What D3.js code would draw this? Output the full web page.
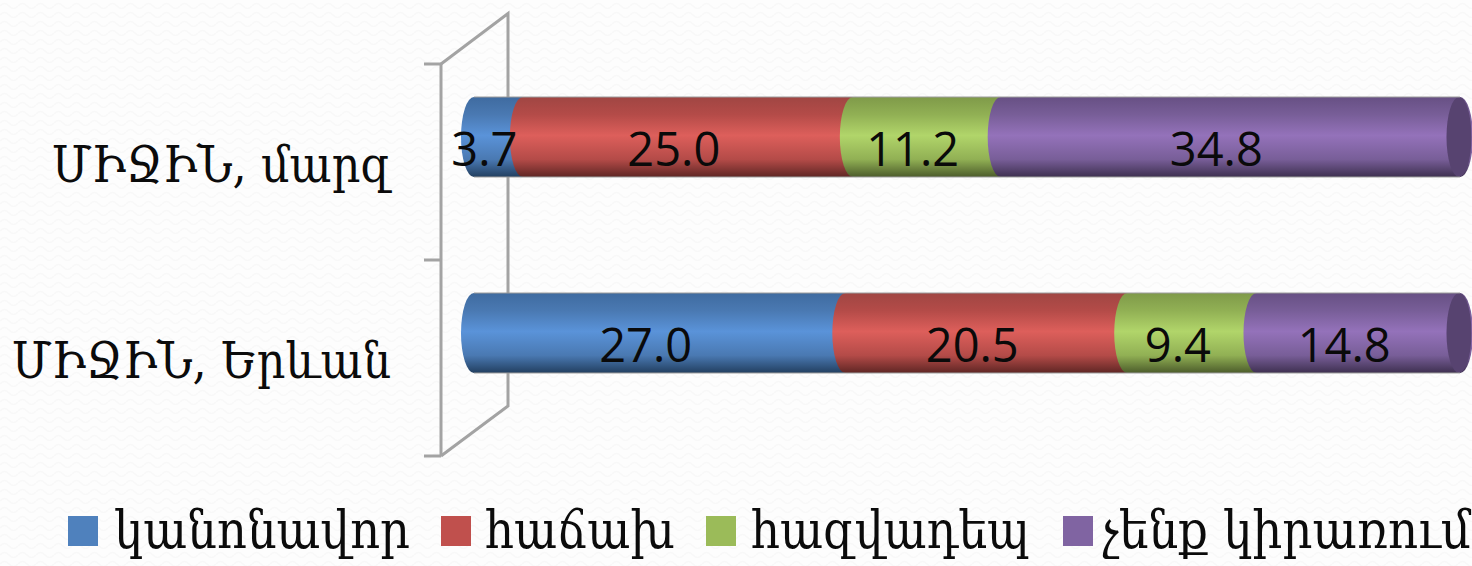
<!DOCTYPE html>
<html><head><meta charset="utf-8">
<script src="https://cdn.jsdelivr.net/npm/d3@7/dist/d3.min.js"></script>
<style>
html,body{margin:0;padding:0;background:#fdfdfd;overflow:hidden}
svg{display:block}
.cat,.leg{font-family:"DejaVu Serif",serif;fill:#0b0b0b}
.val{font-family:"Open Sans","Noto Sans",sans-serif;fill:#0a0a0a}
</style></head><body>
<svg id="c" width="1472" height="566"></svg>
<script>
const categories = ["ՄԻՋԻՆ, մարզ", "ՄԻՋԻՆ, Երևան"];
const seriesNames = ["կանոնավոր", "հաճախ", "հազվադեպ", "չենք կիրառում"];
const kanonavor = [3.7, 27.0];
const hachakh = [25.0, 20.5];
const hazvadep = [11.2, 9.4];
const chenq = [34.8, 14.8];
const seriesValues = [kanonavor, hachakh, hazvadep, chenq];
const baseColors = ["#4f81bd", "#c0504d", "#9bbb59", "#8064a2"];
const topColors = ["#3f6ba0", "#a04643", "#7f9a49", "#675084"];
const lightColors = ["#5a93d9", "#dd5f5b", "#b1d56a", "#9472ba"];
const midColors = ["#4a79b2", "#b44b48", "#91b054", "#785e98"];
const darkColors = ["#223f60", "#5f2624", "#4c5c2b", "#3e3050"];
const capColors = ["#3a5f8c", "#8e3b39", "#728a42", "#574370"];

const svg = d3.select("#c");
const W = 1472, H = 566;
const rows = categories.map((c, i) => {
  const r = {cat: c};
  seriesNames.forEach((s, k) => r[s] = seriesValues[k][i]);
  return r;
});
const stacked = d3.stack().keys(seriesNames).offset(d3.stackOffsetExpand)(rows);
const x = d3.scaleLinear().domain([0, 1]).range([461, 1447]);
const y = d3.scaleBand().domain(categories).range([39, 431]).paddingInner(0.592).paddingOuter(0.296);
const rx = 13;

const defs = svg.append("defs");
const pat = defs.append("pattern").attr("id", "bgp").attr("width", 18).attr("height", 9).attr("patternUnits", "userSpaceOnUse");
pat.append("path").attr("d", "M0,6Q4.5,1 9,6T18,6").attr("fill", "none").attr("stroke", "#f8f8f8").attr("stroke-width", 1.5);
svg.append("rect").attr("width", W).attr("height", H).attr("fill", "#fdfdfd");
svg.append("rect").attr("width", W).attr("height", H).attr("fill", "url(#bgp)");

seriesNames.forEach((s, k) => {
  const g = defs.append("linearGradient").attr("id", "g" + k).attr("x1", 0).attr("x2", 0).attr("y1", 0).attr("y2", 1);
  [[0, topColors[k]], [0.22, midColors[k]], [0.48, lightColors[k]], [0.78, midColors[k]], [1, darkColors[k]]]
    .forEach(d => g.append("stop").attr("offset", d[0]).attr("stop-color", d[1]));
});

const axisColor = "#a3a3a3";
const frame = svg.append("g").attr("fill", "none").attr("stroke", axisColor).attr("stroke-width", 3);
const axisScale = d3.scaleLinear().domain([0, categories.length]).range([64, 456]);
frame.append("path").attr("d", `M441,${axisScale(0)}V${axisScale(2)}`);
d3.range(categories.length + 1).forEach(i => {
  frame.append("path").attr("d", `M424,${axisScale(i)}H441`);
});
frame.append("path").attr("d", `M441,${axisScale(0)}L508,13.5V406L441,${axisScale(2)}`);

// cylinders: each later segment overlaps the previous one with its bulging left end
const ry = y.bandwidth() / 2;
stacked.forEach(ser => {
  const k = seriesNames.indexOf(ser.key);
  svg.append("g").selectAll("path").data(ser).join("path")
    .attr("fill", `url(#g${k})`)
    .attr("d", d => {
      const x0 = x(d[0]), x1 = x(d[1]), t = y(d.data.cat), b = t + y.bandwidth();
      return `M${x0 + rx},${t}H${x1 + rx}A${rx},${ry} 0 0 1 ${x1 + rx},${b}H${x0 + rx}A${rx},${ry} 0 0 1 ${x0 + rx},${t}Z`;
    });
  if (k === seriesNames.length - 1) {
    svg.append("g").selectAll("ellipse").data(ser).join("ellipse")
      .attr("cx", d => x(d[1]) + rx - 1)
      .attr("cy", d => y(d.data.cat) + ry)
      .attr("rx", rx - 0.5).attr("ry", ry)
      .attr("fill", capColors[k]);
  }
});
// hairlines along the top and bottom of each cylinder
const hair = svg.append("g").attr("stroke", "#9a9a9a").attr("stroke-width", 1);
categories.forEach(c => {
  hair.append("path").attr("d", `M${x(0) + rx},${y(c)}H${x(1) + rx}`);
  hair.append("path").attr("d", `M${x(0) + rx},${y(c) + y.bandwidth()}H${x(1) + rx}`);
});

// value labels
stacked.forEach((ser, k) => {
  svg.append("g").selectAll("text").data(ser).join("text")
    .attr("class", "val")
    .attr("x", d => (x(d[0]) + x(d[1])) / 2 - 1)
    .attr("y", d => y(d.data.cat) + ry + 29)
    .attr("text-anchor", "middle")
    .attr("font-size", 47)
    .text((d, i) => seriesValues[k][i].toFixed(1));
});

// category labels
svg.append("g").selectAll("text").data(categories).join("text")
  .attr("class", "cat")
  .attr("transform", c => `translate(391,${y(c) + ry + 44.5}) scale(1,1.14)`)
  .attr("text-anchor", "end").attr("font-size", 44.5)
  .text(c => c);

// legend
const legendX = [68, 441, 706, 1063];
const legendTextX = [114, 485, 751, 1102];
const legendTextW = [296, 190, 279, 369];
seriesNames.forEach((s, k) => {
  svg.append("rect").attr("x", legendX[k]).attr("y", 516).attr("width", 30).attr("height", 30).attr("fill", baseColors[k]);
  svg.append("text").attr("class", "leg")
    .attr("transform", `translate(${legendTextX[k]},548) scale(1,1.14)`)
    .attr("font-size", 46.5)
    .attr("textLength", legendTextW[k]).attr("lengthAdjust", "spacingAndGlyphs")
    .text(s);
});
</script></body></html>
